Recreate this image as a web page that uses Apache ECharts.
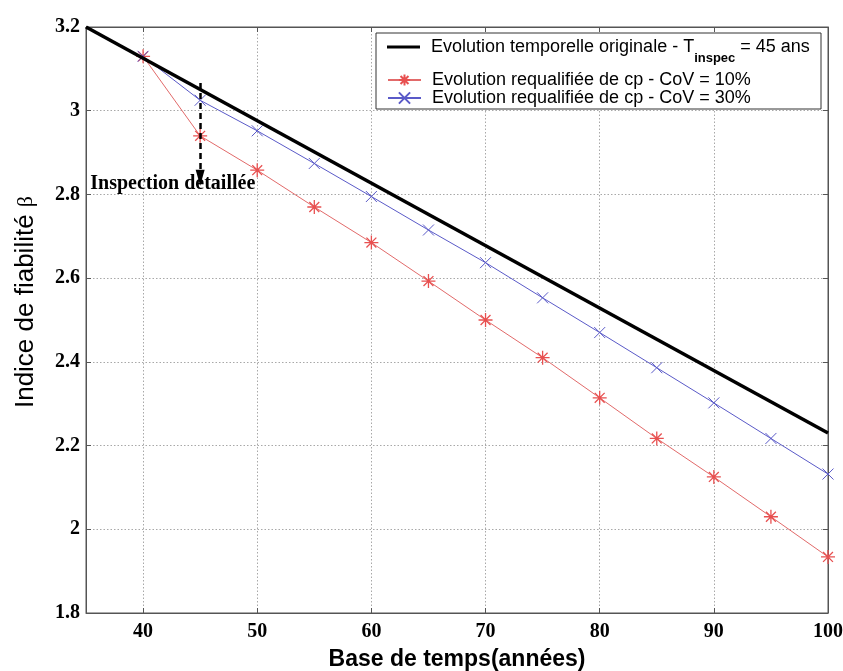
<!DOCTYPE html>
<html>
<head>
<meta charset="utf-8">
<script src="https://cdn.jsdelivr.net/npm/echarts@6/dist/echarts.min.js"></script>
<style>
html,body{margin:0;padding:0;background:#fff;}
#chart{width:843px;height:671px;}
</style>
</head>
<body>
<div id="chart"></div>
<script>
// ---- data ----
var years = [40, 45, 50, 55, 60, 65, 70, 75, 80, 85, 90, 95, 100];
var originalX = [35, 100];
var originalBeta = [3.2, 2.23];
var cov10 = [3.13, 2.94, 2.858, 2.77, 2.685, 2.593, 2.50, 2.41, 2.314, 2.217, 2.125, 2.03, 1.934];
var cov30 = [3.13, 3.025, 2.952, 2.874, 2.795, 2.715, 2.637, 2.553, 2.47, 2.386, 2.302, 2.217, 2.132];
var xTicks = [40, 50, 60, 70, 80, 90, 100];
var arrowFrom = [45, 3.066];
var arrowTo = [45, 2.84];
var noteAt = [42.6, 2.826];
var noteText = 'Inspection detaillée';
var legendNames = ['Evolution temporelle originale - T_inspec = 45 ans',
  'Evolution requalifiée de cp - CoV = 10%',
  'Evolution requalifiée de cp - CoV = 30%'];

function pairs(xs, ys){ return xs.map(function(x,i){ return [x, ys[i]]; }); }

var chart = echarts.init(document.getElementById('chart'), null, {renderer:'canvas'});
var SANS = '"Liberation Sans",Arial,sans-serif';
var SERIF = '"Liberation Serif","Times New Roman",serif';
var tickFont = {fontFamily:SERIF, fontWeight:'bold', fontSize:20, color:'#000'};
var gridLine = {show:true, lineStyle:{color:'#a8a8a8', type:[1.5,2], width:1}};
var asterisk = 'path://M0,-10L0,10M-10,0L10,0M-7.07,-7.07L7.07,7.07M-7.07,7.07L7.07,-7.07';
var cross = 'path://M-10,-10L10,10M-10,10L10,-10';
var red = '#e85050', blue = '#5a5ac8';
var legendText = {
  fontFamily:SANS, fontSize:18, color:'#000',
  rich:{
    a:{fontFamily:SANS, fontSize:18, lineHeight:18, color:'#000', padding:[0,0,0,6]},
    b:{fontFamily:SANS, fontSize:18, lineHeight:18, color:'#000'},
    sub:{fontFamily:SANS, fontSize:13, fontWeight:'bold', color:'#000', padding:[22,0,0,0]}
  }
};

var option = {
  animation:false,
  backgroundColor:'#fff',
  grid:{left:86, right:15, top:27, bottom:58, show:true, borderColor:'#555', borderWidth:1,
        containLabel:false, outerBoundsMode:'none'},
  graphic:{elements:[{
    type:'rect', z:50, silent:true,
    shape:{x:376, y:33, width:445, height:76},
    style:{fill:'#fff', stroke:'#333', lineWidth:1}
  }]},
  legend:[{
    orient:'vertical', left:387, top:38, z:60,
    data:[{name:legendNames[0], icon:'rect'}],
    padding:0, itemGap:0, itemWidth:33, itemHeight:3,
    formatter:function(){
      return '{a|Evolution temporelle originale - T}{sub|inspec}{b| = 45 ans}';
    },
    textStyle:legendText
  },{
    orient:'vertical', left:387, top:71, z:60,
    data:[legendNames[1], legendNames[2]],
    padding:0, itemGap:0, itemWidth:33, itemHeight:14,
    formatter:function(n){ return '{a|'+n+'}'; },
    textStyle:legendText
  }],
  xAxis:[{
    type:'value', min:35, max:100,
    name:'Base de temps(années)', nameLocation:'middle', nameGap:35,
    nameTextStyle:{fontFamily:SANS, fontWeight:'bold', fontSize:23, color:'#000'},
    axisLine:{show:true, lineStyle:{color:'#555'}},
    axisTick:{show:true, inside:true, length:5, customValues:xTicks, lineStyle:{color:'#555'}},
    axisLabel:Object.assign({customValues:xTicks, margin:9}, tickFont),
    splitLine:gridLine
  },{
    type:'value', min:35, max:100, position:'top',
    axisLine:{show:true, lineStyle:{color:'#555'}},
    axisTick:{show:true, inside:true, length:5, customValues:xTicks, lineStyle:{color:'#555'}},
    axisLabel:{show:false, customValues:xTicks},
    splitLine:{show:false}
  }],
  yAxis:[{
    type:'value', min:1.8, max:3.2, interval:0.2,
    name:'{t|Indice de fiabilité }{b|β}', nameLocation:'middle', nameGap:47, nameRotate:90,
    nameTextStyle:{fontFamily:SANS, fontSize:26, color:'#000', padding:[0,0,0,36],
      rich:{t:{fontFamily:SANS, fontSize:26, color:'#000'},
            b:{fontFamily:SERIF, fontSize:22, color:'#000'}}},
    axisLine:{show:true, lineStyle:{color:'#555'}},
    axisTick:{show:true, inside:true, length:5, lineStyle:{color:'#555'}},
    axisLabel:Object.assign({margin:6}, tickFont),
    splitLine:gridLine
  },{
    type:'value', min:1.8, max:3.2, interval:0.2, position:'right',
    axisLine:{show:true, lineStyle:{color:'#555'}},
    axisTick:{show:true, inside:true, length:5, lineStyle:{color:'#555'}},
    axisLabel:{show:false},
    splitLine:{show:false}
  }],
  series:[{
    name:legendNames[0], type:'line', data:pairs(originalX, originalBeta),
    showSymbol:false, symbol:'none',
    lineStyle:{color:'#000', width:3.5}, itemStyle:{color:'#000'}, z:3,
    markLine:{
      silent:true, symbol:['none','path://M5,0L10,16L0,16Z'], symbolSize:[9,16],
      lineStyle:{color:'#000', width:2.5, type:[6,4]},
      itemStyle:{color:'#000'},
      label:{show:false},
      data:[[{coord:arrowFrom},{coord:arrowTo}]]
    },
    markPoint:{
      silent:true, symbol:'circle', symbolSize:1, itemStyle:{color:'rgba(0,0,0,0)'},
      label:{show:true, position:'inside', formatter:noteText,
        fontFamily:SERIF, fontWeight:'bold', fontSize:20, color:'#000'},
      data:[{coord:noteAt}]
    }
  },{
    name:legendNames[1], type:'line', data:pairs(years, cov10),
    symbol:asterisk, symbolSize:14, showSymbol:true,
    lineStyle:{color:'#e26a6a', width:1},
    itemStyle:{color:red, borderColor:red, borderWidth:1.3}, z:2
  },{
    name:legendNames[2], type:'line', data:pairs(years, cov30),
    symbol:cross, symbolSize:11, showSymbol:true,
    lineStyle:{color:blue, width:1},
    itemStyle:{color:blue, borderColor:blue, borderWidth:1}, z:2
  }]
};
chart.setOption(option);
</script>
</body>
</html>
